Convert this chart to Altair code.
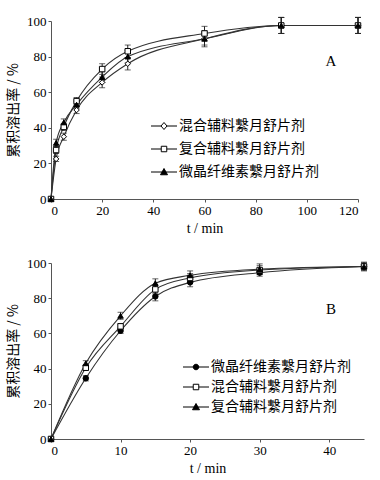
import altair as alt
import pandas as pd

# ---------- Panel A data ----------
t_a = [0, 2, 5, 10, 20, 30, 60, 90, 120]
names_a = ["混合辅料繫月舒片剂", "复合辅料繫月舒片剂", "微晶纤维素繫月舒片剂"]
a_mix = [0, 22.5, 35, 50, 65.5, 76, 90, 97.5, 97.5]
a_comp = [0, 27.5, 40.5, 55, 73, 83, 93, 97.5, 97.5]
a_mcc = [0, 31.5, 43, 53, 68.5, 80, 90, 97.5, 97.5]
a_mix_err = [0, 1.5, 2, 2, 3, 3.5, 3.5, 4.5, 4.5]
a_comp_err = [0, 2, 2, 2, 3, 3.5, 4, 4.5, 4.5]
a_mcc_err = [0, 2, 2, 2, 3, 3.5, 4.5, 4.5, 4.5]

# ---------- Panel B data ----------
t_b = [0, 5, 10, 15, 20, 30, 45]
names_b = ["微晶纤维素繫月舒片剂", "混合辅料繫月舒片剂", "复合辅料繫月舒片剂"]
b_mcc = [0, 34.5, 61.5, 81, 89, 94.5, 98]
b_mix = [0, 40.5, 64, 85, 91.5, 96, 98]
b_comp = [0, 43, 70, 88.5, 93, 96.5, 98]
b_mcc_err = [0, 1.5, 1.5, 2.5, 2.5, 2, 2]
b_mix_err = [0, 1.5, 1.5, 2.5, 2.5, 2.5, 2]
b_comp_err = [0, 1.5, 2, 2.5, 2.5, 3, 2.5]

y_ticks = [0, 20, 40, 60, 80, 100]
x_ticks_a = [0, 20, 40, 60, 80, 100, 120]
x_ticks_b = [0, 10, 20, 30, 40]

# legend symbol paths: line + marker (unit coordinates)
LINE_SPLIT = "M-2.6,0L-0.6,0M0.6,0L2.6,0"
LINE_FULL = "M-2.6,0L2.6,0"
P_DIAMOND = LINE_SPLIT + "M0,-0.7L0.6,0L0,0.7L-0.6,0Z"
P_SQUARE = LINE_SPLIT + "M-0.55,-0.55L0.55,-0.55L0.55,0.55L-0.55,0.55Z"
P_TRI = LINE_FULL + "M0,-0.7L0.7,0.55L-0.7,0.55Z"
P_CIRC = LINE_FULL + "M0.55,0A0.55,0.55 0 1,1 -0.55,0A0.55,0.55 0 1,1 0.55,0Z"


def make_df(times, names, values, errs):
    rows = []
    for name, vals, es in zip(names, values, errs):
        for t, v, e in zip(times, vals, es):
            rows.append({"t": t, "v": v, "lo": v - e, "hi": v + e, "s": name})
    return pd.DataFrame(rows)


def legend(lx, ly, rp):
    return alt.Legend(title=None, orient="none", legendX=lx, legendY=ly,
                      symbolSize=100, symbolStrokeWidth=1,
                      symbolStrokeColor="black", symbolOpacity=1,
                      labelFont="Noto Sans CJK SC", labelFontSize=14,
                      labelColor="black", labelOffset=8, rowPadding=rp,
                      padding=0)


def panel(df, names, shapes, legend_paths, fills, xdom, xticks, w, h, label,
          lx, ly, rp, labx, laby):
    base = alt.Chart(df)
    x_axis = alt.Axis(values=xticks, title="t / min", format="d",
                      titleFont="Liberation Serif", titleFontSize=14,
                      titleFontWeight="normal", titlePadding=4,
                      labelOverlap=False)
    y_axis = alt.Axis(values=y_ticks, title="累积溶出率 / %",
                      titleFont="Noto Sans CJK SC", titleFontSize=14,
                      titleFontWeight="normal", titlePadding=6,
                      labelOverlap=False, tickCount=6)
    xs = alt.Scale(domain=xdom, nice=False)
    ys = alt.Scale(domain=[0, 100], nice=False)

    def X(f="t"):
        return alt.X(f + ":Q", scale=xs, axis=x_axis)

    def Y(f):
        return alt.Y(f + ":Q", scale=ys, axis=y_axis)

    lines = base.mark_line(interpolate="monotone", color="#333333",
                           strokeWidth=1.1).encode(x=X(), y=Y("v"), detail="s:N")
    rules = base.mark_rule(color="#222222", strokeWidth=1).encode(
        x=X(), y=Y("lo"), y2="hi:Q")
    cap_lo = base.mark_tick(color="#222222", orient="horizontal", size=6,
                            thickness=1).encode(x=X(), y=Y("lo"))
    cap_hi = base.mark_tick(color="#222222", orient="horizontal", size=6,
                            thickness=1).encode(x=X(), y=Y("hi"))
    pts = base.mark_point(filled=True, opacity=1, stroke="black",
                          strokeWidth=1, size=30).encode(
        x=X(), y=Y("v"),
        shape=alt.Shape("s:N", scale=alt.Scale(domain=names, range=shapes),
                        legend=None),
        fill=alt.Fill("s:N", scale=alt.Scale(domain=names, range=fills),
                      legend=None),
    )
    leg = base.transform_filter("datum.t < 0").mark_point(
        filled=True, opacity=1, strokeWidth=1).encode(
        x=X(), y=Y("v"),
        shape=alt.Shape("s:N", scale=alt.Scale(domain=names, range=legend_paths),
                        legend=legend(lx, ly, rp)),
        fill=alt.Fill("s:N", scale=alt.Scale(domain=names, range=fills),
                      legend=legend(lx, ly, rp)),
        stroke=alt.Stroke("s:N", scale=alt.Scale(domain=names,
                                                 range=["black"] * 3),
                          legend=legend(lx, ly, rp)),
    )
    lab = alt.Chart(pd.DataFrame({"label": [label]})).mark_text(
        font="Liberation Serif", fontSize=15, color="black", align="center",
        baseline="middle").encode(text="label:N", x=alt.value(labx),
                                  y=alt.value(laby))
    return alt.layer(lines, rules, cap_lo, cap_hi, pts, leg, lab).resolve_scale(
        shape="independent", fill="independent", stroke="independent"
    ).properties(width=w, height=h)


df_a = make_df(t_a, names_a, [a_mix, a_comp, a_mcc],
               [a_mix_err, a_comp_err, a_mcc_err])
df_b = make_df(t_b, names_b, [b_mcc, b_mix, b_comp],
               [b_mcc_err, b_mix_err, b_comp_err])

pa = panel(df_a, names_a, ["diamond", "square", "triangle-up"],
           [P_DIAMOND, P_SQUARE, P_TRI], ["white", "white", "black"],
           [0, 120], x_ticks_a, 307, 178, "A", 106, 98, 9, 280, 40)
pb = panel(df_b, names_b, ["circle", "square", "triangle-up"],
           [P_CIRC, P_SQUARE, P_TRI], ["black", "white", "black"],
           [0, 45], x_ticks_b, 313, 176, "B", 138, 97, 6, 280, 46)

chart = alt.vconcat(pa, pb, spacing=22).properties(
    padding={"top": 15, "left": 6, "right": 5, "bottom": 5}
).configure_view(stroke=None).configure_axis(
    labelFont="Liberation Serif", labelFontSize=13, labelColor="black",
    domainColor="#555555", tickColor="#555555", tickSize=3, grid=False,
    titleColor="black", labelPadding=2
).configure_concat(spacing=22)

chart.save("out.html", embed_options={"renderer": "svg", "actions": False})
